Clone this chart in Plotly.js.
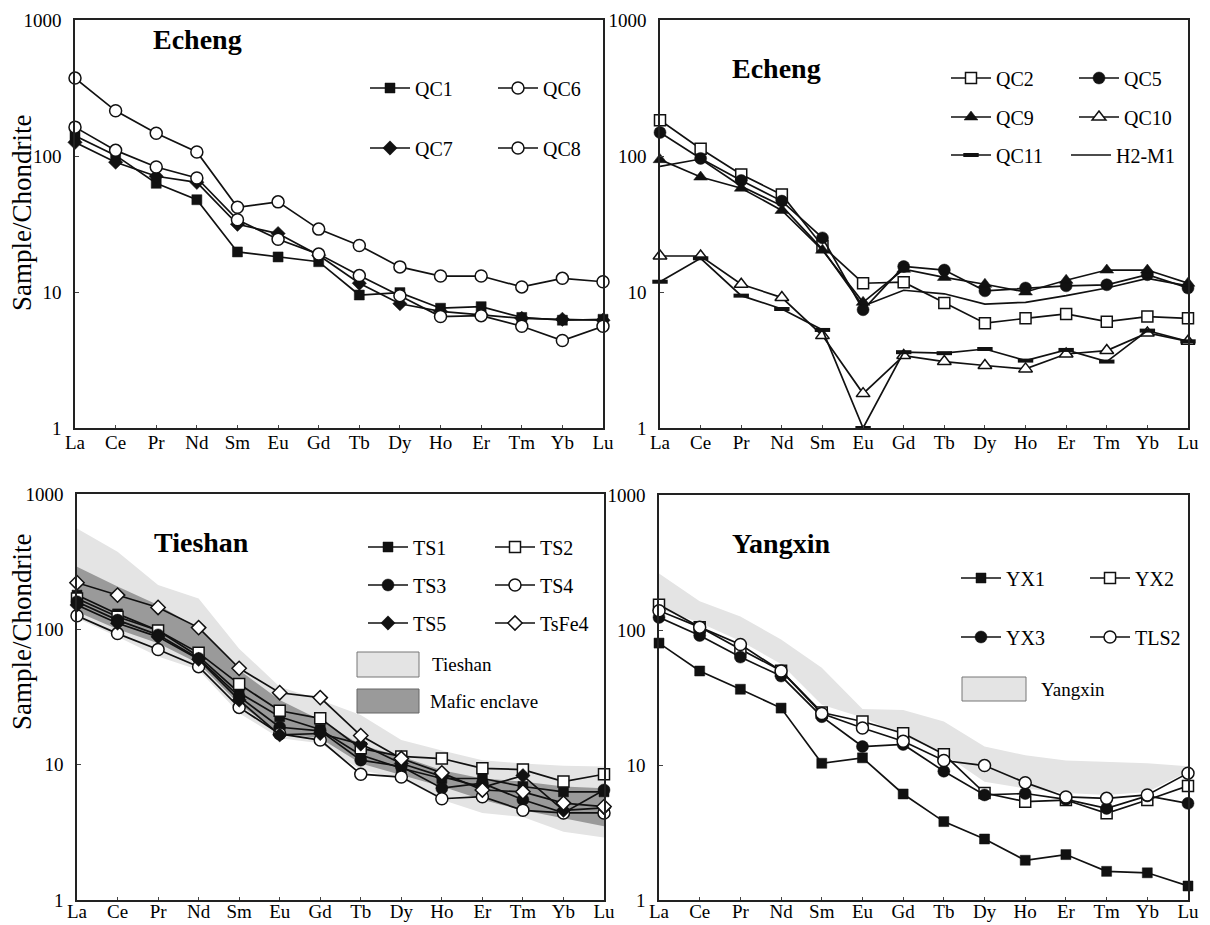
<!DOCTYPE html>
<html>
<head>
<meta charset="utf-8">
<script src="https://cdn.plot.ly/plotly-3.0.1.min.js"></script>
<style>html,body{margin:0;padding:0;background:#fff;}#chart{width:1210px;height:925px;}</style>
</head>
<body>
<div id="chart"></div>
<script>
// ---------- data ----------
const elements = ['La','Ce','Pr','Nd','Sm','Eu','Gd','Tb','Dy','Ho','Er','Tm','Yb','Lu'];
const yTickVals = [1, 10, 100, 1000];
const yTickText = ['1', '10', '100', '1000'];

// Panel 1: Echeng
const QC1 = [141, 101, 63, 47.7, 19.7, 18.1, 16.7, 9.5, 9.9, 7.6, 7.8, 6.5, 6.2, 6.3];
const QC6 = [374, 215, 147, 107, 42, 46, 29, 22, 15.3, 13.1, 13.1, 10.9, 12.6, 11.9];
const QC7 = [126, 90, 71, 64, 31.5, 26.9, 18.6, 11.6, 8.2, 7.2, 6.8, 6.4, 6.3, 6.2];
const QC8 = [163, 110, 83, 69, 34, 24.4, 19, 13.2, 9.4, 6.6, 6.7, 5.6, 4.4, 5.6];

// Panel 2: Echeng
const QC2 = [183, 113, 73, 52, 21.8, 11.6, 11.8, 8.3, 5.9, 6.4, 6.9, 6.05, 6.6, 6.4];
const QC5 = [149, 96, 66, 46.6, 25, 7.4, 15.4, 14.5, 10.2, 10.7, 11.1, 11.3, 13.4, 10.7];
const QC9 = [94, 70, 58, 39.8, 20.3, 8.4, 14.7, 12.8, 11.4, 10.0, 12.2, 14.5, 14.5, 11.6];
const QC10 = [18.4, 18.4, 11.4, 9.1, 4.78, 1.79, 3.41, 3.08, 2.88, 2.72, 3.5, 3.71, 5.0, 4.34];
const QC11 = [11.9, 17.7, 9.4, 7.5, 5.26, 1.0, 3.61, 3.55, 3.81, 3.13, 3.75, 3.08, 5.2, 4.34];
const H2M1 = [84, 95, 60, 43, 20.6, 7.9, 10.3, 9.7, 8.15, 8.4, 9.4, 10.7, 12.6, 11.1];

// Panel 3: Tieshan
const TS1 = [179, 130, 98, 63, 34, 22.6, 18.2, 11.8, 9.4, 7.9, 7.9, 6.9, 6.3, 6.3];
const TS2 = [169, 124, 98, 67, 39.4, 25, 22, 13.2, 11.5, 11.1, 9.4, 9.2, 7.5, 8.5];
const TS3 = [160, 117, 91, 61, 31.8, 18.9, 17.8, 10.8, 9.7, 6.7, 7.3, 5.5, 4.4, 6.5];
const TS4 = [126, 93, 71, 53, 26.5, 16.9, 15.2, 8.5, 8.1, 5.6, 5.8, 4.6, 4.4, 4.4];
const TS5 = [151, 111, 88, 60, 30, 16.6, 17, 14.2, 10.2, 8.2, 6.8, 8.3, 4.6, 4.8];
const TsFe4 = [221, 179, 145, 103, 51.5, 34, 31.3, 16.4, 11.1, 8.7, 6.5, 6.3, 5.2, 4.9];
const tieshanUpper = [557, 375, 213, 169, 72, 37.7, 30, 23.3, 15.2, 12.7, 10.8, 10.2, 9.8, 9.7];
const tieshanLower = [121, 88, 63, 50, 24, 15.7, 14.4, 9.1, 7.9, 5.5, 4.4, 4.1, 3.2, 2.9];
const maficUpper = [290, 207, 151, 102, 50, 30, 21.4, 14, 11.5, 9.1, 7.9, 7.5, 6.9, 6.7];
const maficLower = [135, 100, 79, 56, 28, 17, 15.7, 10.2, 8.4, 6.9, 5.5, 4.6, 4.0, 3.5];

// Panel 4: Yangxin
const YX1 = [80, 49.7, 36.4, 26.4, 10.3, 11.3, 6.1, 3.81, 2.83, 1.97, 2.17, 1.63, 1.59, 1.27];
const YX2 = [154, 105, 72, 50, 24.5, 21, 17.2, 12, 6.2, 5.35, 5.5, 4.39, 5.5, 7.0];
const YX3 = [124, 91, 63, 45.6, 22.8, 13.7, 14.2, 9.0, 6.0, 6.15, 5.56, 4.77, 5.9, 5.2];
const TLS2 = [139, 105, 78, 49.7, 24.1, 18.8, 15.0, 10.8, 9.9, 7.4, 5.8, 5.66, 6.0, 8.7];
const yangxinUpper = [262, 163, 126, 85, 52.6, 26, 25.5, 21, 13.7, 11.8, 10.8, 10.6, 10.3, 9.8];
const yangxinLower = [144, 113, 83, 56, 28, 22.5, 16.5, 12.1, 7.5, 6.7, 6.2, 6.0, 6.3, 8.9];

// ---------- styling ----------
const W = 1210, H = 925;
const FONT = '"Liberation Serif", "Times New Roman", serif';
const INK = '#111111';
const px = v => v / W;
const py = v => 1 - v / H;

const traces = [];
let legendCount = 0;
const legends = {};

function addLegend(lineStartX, rowY) {
  legendCount += 1;
  const id = legendCount === 1 ? 'legend' : 'legend' + legendCount;
  legends[id] = {
    x: px(lineStartX - 2), y: py(rowY), xanchor: 'left', yanchor: 'middle',
    bgcolor: 'rgba(0,0,0,0)', borderwidth: 0, orientation: 'v',
    itemwidth: 40, font: {family: FONT, size: 20, color: '#000'}
  };
  return id;
}

function band(upper, lower, axis, color) {
  traces.push({
    type: 'scatter', mode: 'lines',
    x: elements.concat(elements.slice().reverse()),
    y: upper.concat(lower.slice().reverse()),
    fill: 'toself', fillcolor: color,
    line: {width: 0, color: color},
    xaxis: 'x' + (axis === 1 ? '' : axis), yaxis: 'y' + (axis === 1 ? '' : axis),
    showlegend: false, hoverinfo: 'skip'
  });
}

function series(name, values, axis, symbol, filled, size, lx, ly) {
  const legendId = addLegend(lx, ly);
  const t = {
    type: 'scatter', name: name,
    x: elements, y: values,
    mode: symbol ? 'lines+markers' : 'lines',
    line: {color: INK, width: 1.7},
    xaxis: 'x' + (axis === 1 ? '' : axis), yaxis: 'y' + (axis === 1 ? '' : axis),
    cliponaxis: false, legend: legendId, legendgroup: name
  };
  if (symbol) {
    t.marker = {
      symbol: symbol, size: size,
      color: filled ? INK : '#ffffff',
      line: {color: INK, width: filled ? (symbol === 'line-ew' ? 4 : 0.5) : 1.5}
    };
  }
  traces.push(t);
}

// bands first
band(tieshanUpper, tieshanLower, 3, '#e4e4e4');
band(maficUpper, maficLower, 3, '#9a9a9a');
band(yangxinUpper, yangxinLower, 4, '#e4e4e4');

// panel 1
series('QC1', QC1, 1, 'square', true, 10, 367, 88);
series('QC6', QC6, 1, 'circle', false, 12, 495, 88);
series('QC7', QC7, 1, 'diamond', true, 11, 367, 148);
series('QC8', QC8, 1, 'circle', false, 12, 495, 148);
// panel 2
series('QC2', QC2, 2, 'square', false, 11, 948, 78);
series('QC5', QC5, 2, 'circle', true, 12, 1076, 78);
series('QC9', QC9, 2, 'triangle-up', true, 12, 948, 117);
series('QC10', QC10, 2, 'triangle-up', false, 12, 1076, 117);
series('QC11', QC11, 2, 'line-ew', true, 11, 948, 155);
series('H2-M1', H2M1, 2, null, true, 0, 1068, 155);
// panel 3
series('TS1', TS1, 3, 'square', true, 10, 365, 547);
series('TS2', TS2, 3, 'square', false, 11, 492, 547);
series('TS3', TS3, 3, 'circle', true, 12, 365, 585);
series('TS4', TS4, 3, 'circle', false, 12, 492, 585);
series('TS5', TS5, 3, 'diamond', true, 11, 365, 623);
series('TsFe4', TsFe4, 3, 'diamond', false, 11, 492, 623);
// panel 4
series('YX1', YX1, 4, 'square', true, 10, 958, 578);
series('YX2', YX2, 4, 'square', false, 11, 1087, 578);
series('YX3', YX3, 4, 'circle', true, 12, 958, 637);
series('TLS2', TLS2, 4, 'circle', false, 12, 1087, 637);

function xAxis(l, r, standoff) {
  return {
    domain: [px(l), px(r)], type: 'category', categoryorder: 'array', categoryarray: elements,
    range: [0, 13], showgrid: false, zeroline: false,
    showline: true, mirror: true, linecolor: '#222', linewidth: 1.8,
    ticks: 'inside', ticklen: 3, tickcolor: '#444', tickwidth: 1,
    tickfont: {family: FONT, size: 19, color: '#000'}, ticklabelstandoff: standoff,
    automargin: false, fixedrange: true
  };
}
function yAxis(top, bottom) {
  return {
    domain: [py(bottom), py(top)], type: 'log', range: [0, 3],
    tickmode: 'array', tickvals: yTickVals, ticktext: yTickText,
    showgrid: false, zeroline: false,
    showline: true, mirror: true, linecolor: '#222', linewidth: 1.8,
    ticks: 'inside', ticklen: 4, tickcolor: '#444', tickwidth: 1,
    tickfont: {family: FONT, size: 19, color: '#000'}, ticklabelstandoff: 8,
    automargin: false, fixedrange: true
  };
}

const titleFont = {family: FONT, size: 28, color: '#000', weight: 'bold'};
const yTitleFont = {family: FONT, size: 27, color: '#000'};
const smallFont = {family: FONT, size: 19, color: '#000'};
const noBorder = {borderwidth: 0, borderpad: 0, bordercolor: 'rgba(0,0,0,0)', bgcolor: 'rgba(0,0,0,0)'};
function note(text, x, y, font, extra) {
  return Object.assign({text: text, x: px(x), y: py(y), xref: 'paper', yref: 'paper',
    xanchor: 'left', yanchor: 'middle', showarrow: false, font: font}, noBorder, extra || {});
}
const annotations = [
  note('<b>Echeng</b>', 153, 39, titleFont),
  note('<b>Echeng</b>', 732, 68, titleFont),
  note('<b>Tieshan</b>', 154, 542, titleFont),
  note('<b>Yangxin</b>', 732, 543, titleFont),
  note('Sample/Chondrite', 22, 213, yTitleFont, {xanchor: 'center', textangle: -90}),
  note('Sample/Chondrite', 22, 632, yTitleFont, {xanchor: 'center', textangle: -90}),
  note('Tieshan', 432, 664, smallFont),
  note('Mafic enclave', 430, 701, smallFont),
  note('Yangxin', 1041, 689, smallFont)
];

const shapes = [
  {type: 'rect', xref: 'paper', yref: 'paper', x0: px(357), x1: px(419), y0: py(677), y1: py(652), fillcolor: '#e4e4e4', line: {color: '#777', width: 1}},
  {type: 'rect', xref: 'paper', yref: 'paper', x0: px(357), x1: px(419), y0: py(713), y1: py(689), fillcolor: '#9a9a9a', line: {color: '#666', width: 1}},
  {type: 'rect', xref: 'paper', yref: 'paper', x0: px(962), x1: px(1026), y0: py(701), y1: py(677), fillcolor: '#e4e4e4', line: {color: '#777', width: 1}}
];

const layout = Object.assign({
  width: W, height: H, autosize: false,
  margin: {l: 0, r: 0, t: 0, b: 0},
  paper_bgcolor: '#ffffff', plot_bgcolor: 'rgba(0,0,0,0)',
  font: {family: FONT, color: '#000'},
  showlegend: true, hovermode: false,
  xaxis: xAxis(75, 603, -4), yaxis: yAxis(20, 428),
  xaxis2: xAxis(660, 1188, -4), yaxis2: yAxis(20, 428),
  xaxis3: xAxis(77, 604, -7), yaxis3: yAxis(494, 900),
  xaxis4: xAxis(659, 1188, -7), yaxis4: yAxis(495, 900),
  annotations: annotations, shapes: shapes
}, legends);
layout.xaxis.anchor = 'y'; layout.yaxis.anchor = 'x';
layout.xaxis2.anchor = 'y2'; layout.yaxis2.anchor = 'x2';
layout.xaxis3.anchor = 'y3'; layout.yaxis3.anchor = 'x3';
layout.xaxis4.anchor = 'y4'; layout.yaxis4.anchor = 'x4';

Plotly.newPlot('chart', traces, layout, {staticPlot: true, displayModeBar: false});
</script>
</body>
</html>
